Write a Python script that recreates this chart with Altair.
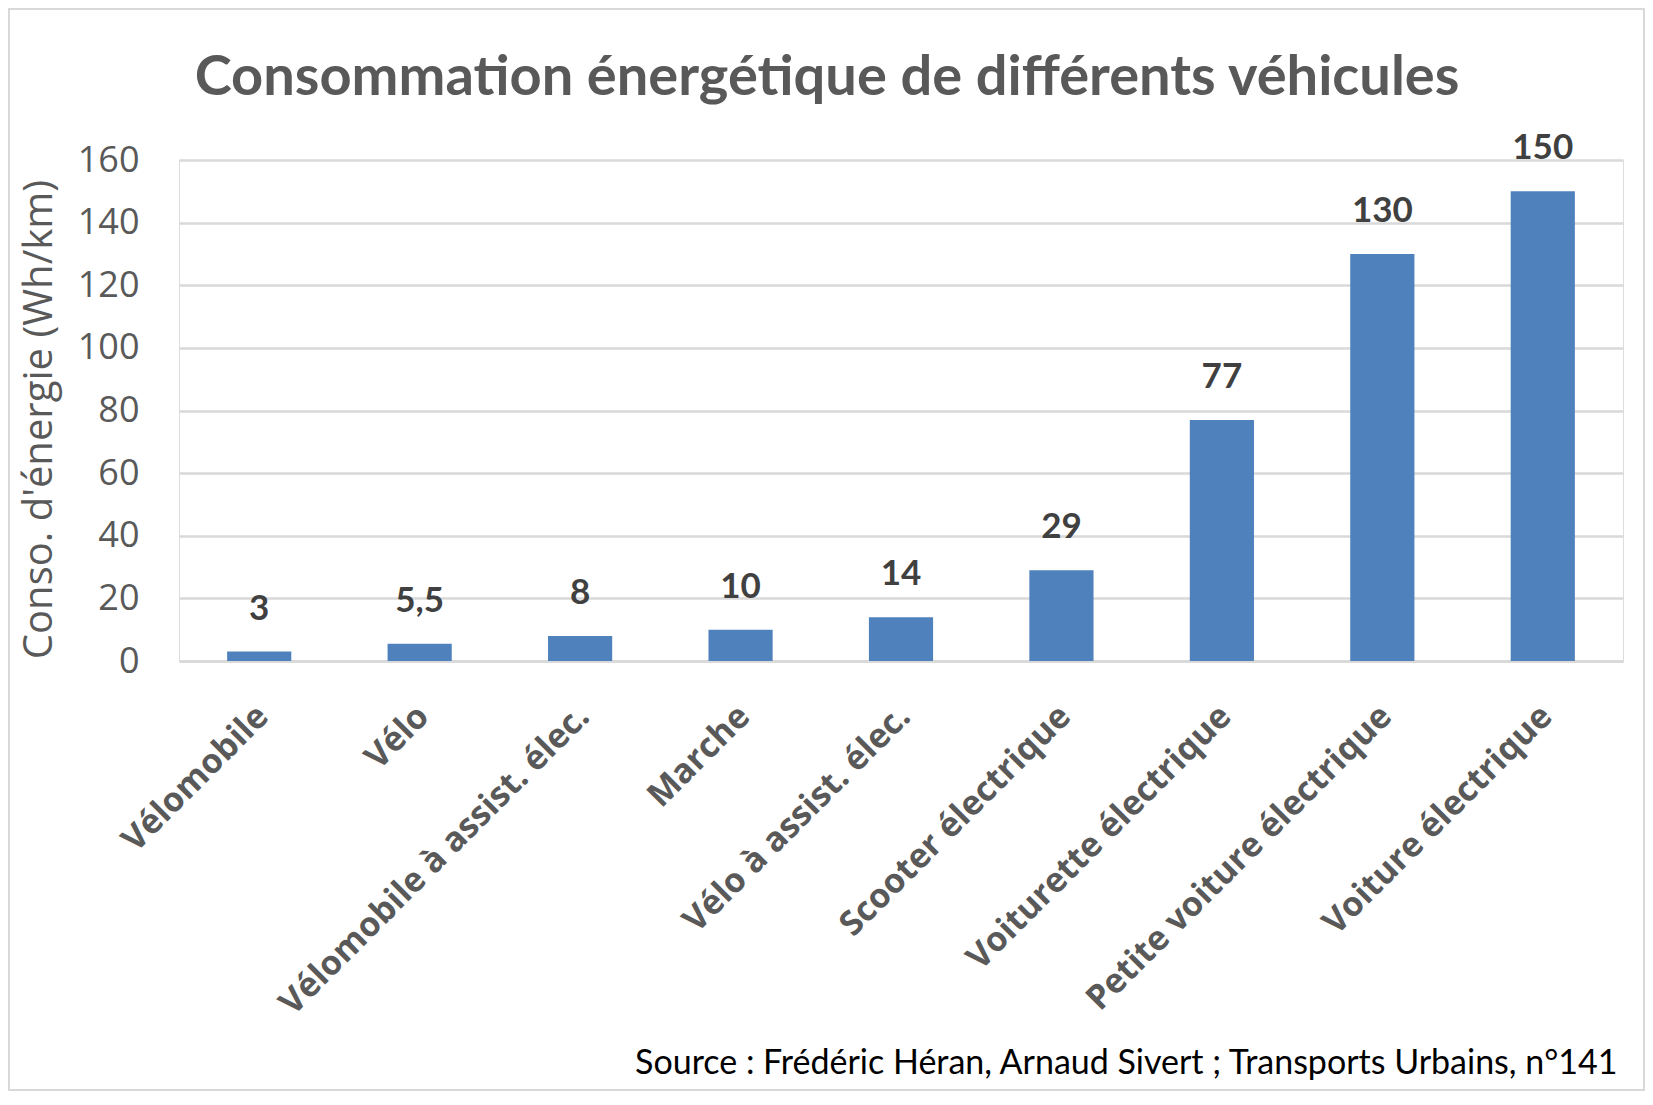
import altair as alt
import pandas as pd

categories = [
    "Vélomobile",
    "Vélo",
    "Vélomobile à assist. élec.",
    "Marche",
    "Vélo à assist. élec.",
    "Scooter électrique",
    "Voiturette électrique",
    "Petite voiture électrique",
    "Voiture électrique",
]
values = [3, 5.5, 8, 10, 14, 29, 77, 130, 150]
value_labels = ["3", "5,5", "8", "10", "14", "29", "77", "130", "150"]
y_ticks = [0, 20, 40, 60, 80, 100, 120, 140, 160]

title_text = "Consommation énergétique de différents véhicules"
y_title = "Conso. d'énergie (Wh/km)"
source_text = "Source : Frédéric Héran, Arnaud Sivert ; Transports Urbains, n°141"

df = pd.DataFrame({"cat": categories, "val": values, "lab": value_labels})

W, H = 1444, 501

x_enc = alt.X(
    "cat:N",
    sort=categories,
    scale=alt.Scale(paddingInner=0.6, paddingOuter=0.3),
    axis=alt.Axis(
        title=source_text,
        titleFont="Lato",
        titleFontSize=34,
        titleFontWeight="normal",
        titleColor="#000000",
        titleAngle=0,
        titleAlign="right",
        titleBaseline="alphabetic",
        titleX=1438,
        titleY=412,
        labelAngle=-45,
        labelAlign="right",
        labelBaseline="top",
        labelPadding=38,
        labelOffset=-8,
        labelFont="Open Sans",
        labelFontSize=34,
        labelFontWeight="bold",
        labelColor="#595959",
        labelOverlap=False,
        labelLimit=0,
        ticks=False,
        domain=True,
        domainColor="#d9d9d9",
        domainWidth=2.5,
        grid=False,
    ),
)

y_enc = alt.Y(
    "val:Q",
    scale=alt.Scale(domain=[0, 160], nice=False),
    axis=alt.Axis(
        title=y_title,
        titleFont="Open Sans",
        titleFontSize=40,
        titleFontWeight="normal",
        titleColor="#595959",
        titleAngle=-90,
        titleAlign="center",
        titleBaseline="middle",
        titleX=-140,
        titleY=259,
        values=y_ticks,
        labelFont="Open Sans",
        labelFontSize=36,
        labelColor="#595959",
        labelPadding=40,
        ticks=False,
        domain=False,
        grid=True,
        gridColor="#d9d9d9",
        gridWidth=2.5,
    ),
)

bars = alt.Chart(df).mark_bar(color="#4F81BD").encode(x=x_enc, y=y_enc)

text = alt.Chart(df).mark_text(
    baseline="alphabetic",
    dy=-32,
    font="Lato",
    fontSize=35,
    fontWeight="bold",
    color="#404040",
).encode(x=alt.X("cat:N", sort=categories), y=alt.Y("val:Q"), text="lab:N")

frame = alt.Chart(pd.DataFrame({"f": [0]})).mark_rect(
    fill=None, stroke="#d9d9d9", strokeWidth=2
).encode(
    x=alt.value(-170), x2=alt.value(1465), y=alt.value(-151), y2=alt.value(930)
)

chart = alt.layer(frame, bars, text).properties(
    width=W,
    height=H,
    padding={"left": 171, "top": 152, "right": 22, "bottom": 430},
    autosize="none",
    title=alt.TitleParams(
        text=title_text,
        font="Lato",
        fontSize=56,
        fontWeight="bold",
        color="#595959",
        anchor="middle",
        frame="group",
        baseline="alphabetic",
        dx=-74,
        offset=-143,
    ),
).configure_view(stroke=None).configure(background="white")

chart.save("out.html", embed_options={"renderer": "svg", "actions": False})
